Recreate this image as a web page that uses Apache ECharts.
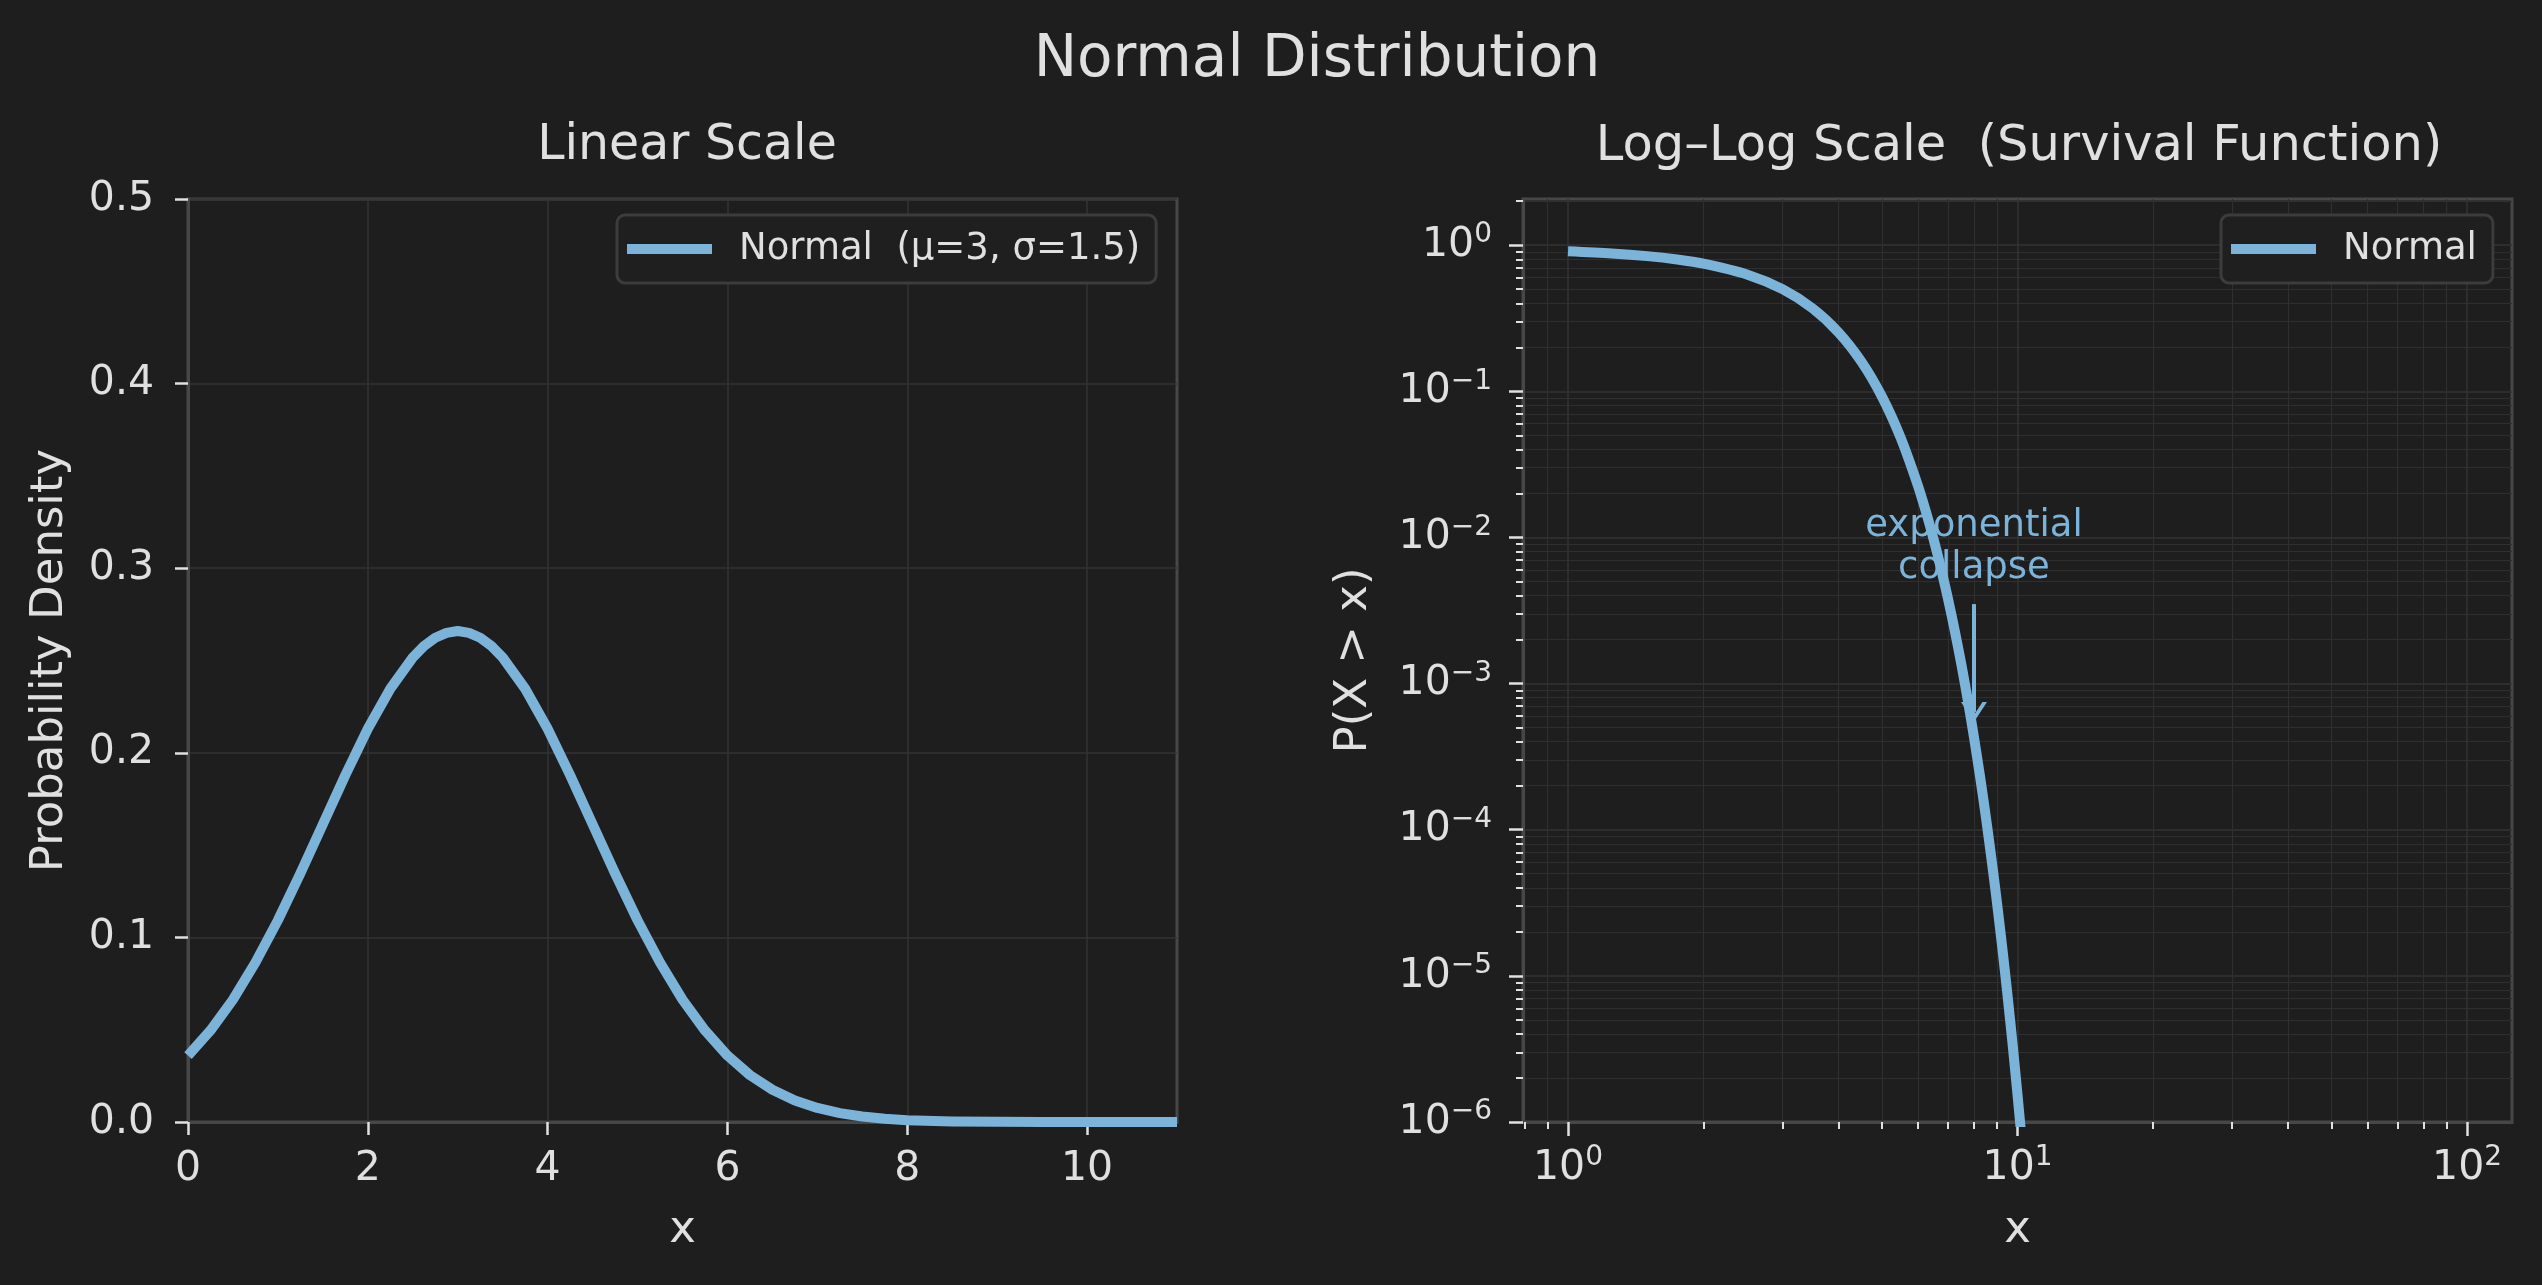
<!DOCTYPE html>
<html>
<head>
<meta charset="utf-8">
<script src="https://cdn.jsdelivr.net/npm/echarts@6/dist/echarts.min.js"></script>
<style>
  html, body { margin: 0; padding: 0; background: #1e1e1e; }
  #chart { width: 2542px; height: 1285px; }
</style>
</head>
<body>
<div id="chart"></div>
<script>
// linear panel: normal pdf (mu=3, sigma=1.5)
var pdfX = [0, 0.25, 0.5, 0.75, 1, 1.25, 1.5, 1.75, 2, 2.25, 2.5, 2.625, 2.75, 2.875, 3, 3.125, 3.25, 3.375, 3.5,
            3.75, 4, 4.25, 4.5, 4.75, 5, 5.25, 5.5, 5.75, 6, 6.25, 6.5, 6.75, 7, 7.25, 7.5, 7.75, 8,
            8.5, 9, 9.5, 10, 10.5, 11];
var pdfY = [0.036, 0.0496, 0.0663, 0.0864, 0.1093, 0.1347, 0.1613, 0.1879, 0.2130, 0.2347, 0.2516, 0.2578,
            0.2623, 0.2650, 0.2660, 0.2650, 0.2623, 0.2578, 0.2516, 0.2347, 0.2130, 0.1879, 0.1613, 0.1347,
            0.1093, 0.0864, 0.0663, 0.0496, 0.0360, 0.0254, 0.0175, 0.0117, 0.0076, 0.0048, 0.0030, 0.0018,
            0.0010, 0.0003, 0.0001, 0, 0, 0, 0];

// log-log panel: survival function
var sfX = [1, 1.25, 1.5, 1.75, 2, 2.5, 3, 3.5, 4, 4.5, 5, 5.5, 6, 6.25, 6.5, 6.75, 7, 7.25, 7.5, 7.75,
           8, 8.25, 8.5, 8.75, 9, 9.25, 9.5, 9.75, 10, 10.25, 10.5];
var sfY = [0.9088, 0.8783, 0.8413, 0.7977, 0.7475, 0.6306, 0.5, 0.3694, 0.2525, 0.1587, 0.0912, 0.0478, 0.02275,
           0.01513, 0.00982, 0.00621, 0.00383, 0.00230, 0.00135, 7.71e-4, 4.29e-4, 2.33e-4, 1.23e-4, 6.32e-5,
           3.17e-5, 1.55e-5, 7.35e-6, 3.40e-6, 1.53e-6, 6.72e-7, 2.87e-7];

// ticks
var linXTicks = [0, 2, 4, 6, 8, 10];
var logXMajor = [1, 10, 100];
var logXMinor = [0.8, 0.9, 2, 3, 4, 5, 6, 7, 8, 9, 20, 30, 40, 50, 60, 70, 80, 90];
var logYMajor = [1e-6, 1e-5, 1e-4, 1e-3, 1e-2, 1e-1, 1];
var logYMinor = [];
[-6, -5, -4, -3, -2, -1, 0].forEach(function (p) {
    for (var m = 2; m <= 9; m++) logYMinor.push(+(m + 'e' + p));
});

// annotation
var annoText = [8, 0.0085];
var arrowFrom = [8, 3.5e-3];
var arrowTo = [8, 6.4e-4];

var lineColor = '#7cb3d8';
var textColor = '#e0e0e0';
var spineColor = '#474747';
var gridColor = '#333333';
var minorGridColor = '#2f2f2f';
var font = 'DejaVu Sans';

function sup(v) {
    var e = Math.round(Math.log10(v));
    return '{b|10}{s|' + String(e).replace('-', '\u2212') + '}';
}
var supRich = {
    b: { fontSize: 41, fontFamily: font, color: textColor, lineHeight: 48 },
    s: { fontSize: 28, fontFamily: font, color: textColor, lineHeight: 30, verticalAlign: 'top' }
};

var chart = echarts.init(document.getElementById('chart'));

var option = {
    backgroundColor: '#1e1e1e',
    animation: false,
    textStyle: { fontFamily: font },
    title: [
        { text: 'Normal Distribution', left: 1312, top: 27, textAlign: 'center',
          textStyle: { color: textColor, fontSize: 58, fontWeight: 'normal', fontFamily: font } },
        { text: 'Linear Scale', left: 682, top: 117, textAlign: 'center',
          textStyle: { color: textColor, fontSize: 49, fontWeight: 'normal', fontFamily: font } },
        { text: 'Log\u2013Log Scale  (Survival Function)', left: 2014, top: 117, textAlign: 'center',
          textStyle: { color: textColor, fontSize: 49.5, fontWeight: 'normal', fontFamily: font } }
    ],
    legend: [
        {
            data: ['Normal  (\u03bc=3, \u03c3=1.5)'],
            left: 617, top: 215,
            icon: 'rect', itemWidth: 85, itemHeight: 10,
            padding: [14, 16, 14, 10],
            backgroundColor: '#1f1f1f', borderColor: '#3c3c3c', borderWidth: 3, borderRadius: 8,
            textStyle: { color: textColor, fontSize: 37, fontFamily: font, lineHeight: 40, padding: [0, 0, 0, 22] }
        },
        {
            data: ['Normal'],
            left: 2221, top: 215,
            icon: 'rect', itemWidth: 85, itemHeight: 10,
            padding: [14, 16, 14, 10],
            backgroundColor: '#1f1f1f', borderColor: '#3c3c3c', borderWidth: 3, borderRadius: 8,
            textStyle: { color: textColor, fontSize: 37, fontFamily: font, lineHeight: 40, padding: [0, 0, 0, 22] }
        }
    ],
    grid: [
        { left: 188, top: 199, width: 989, height: 923, show: true, borderColor: spineColor, borderWidth: 3 },
        { left: 1523, top: 199, width: 989, height: 923, show: true, borderColor: spineColor, borderWidth: 3 }
    ],
    xAxis: [
        {
            type: 'value', gridIndex: 0, min: 0, max: 11, position: 'bottom',
            name: 'x', nameLocation: 'middle', nameGap: 86,
            nameTextStyle: { color: textColor, fontSize: 45, fontFamily: font },
            axisLine: { lineStyle: { color: spineColor, width: 3 } },
            axisTick: { customValues: linXTicks, length: 13, lineStyle: { color: textColor, width: 2.5 } },
            axisLabel: { customValues: linXTicks, margin: 27, color: textColor, fontSize: 41, fontFamily: font },
            splitLine: { show: true, lineStyle: { color: gridColor, width: 1.5 } }
        },
        {
            type: 'log', gridIndex: 1, min: 0.794, max: 125.9, position: 'bottom',
            name: 'x', nameLocation: 'middle', nameGap: 86,
            nameTextStyle: { color: textColor, fontSize: 45, fontFamily: font },
            axisLine: { lineStyle: { color: spineColor, width: 3 } },
            axisTick: { customValues: logXMajor, length: 14, lineStyle: { color: textColor, width: 2.5 } },
            axisLabel: { customValues: logXMajor, margin: 22, formatter: sup, rich: supRich },
            splitLine: { show: true, lineStyle: { color: gridColor, width: 1.5 } }
        },
        {
            type: 'log', gridIndex: 1, min: 0.794, max: 125.9, position: 'bottom', offset: 0,
            axisLine: { show: false },
            axisTick: { customValues: logXMinor, length: 7, lineStyle: { color: textColor, width: 2 } },
            axisLabel: { show: false },
            splitLine: { show: true, lineStyle: { color: minorGridColor, width: 1.2 } }
        }
    ],
    yAxis: [
        {
            type: 'value', gridIndex: 0, min: 0, max: 0.5, interval: 0.1, position: 'left',
            name: 'Probability Density', nameLocation: 'middle', nameGap: 115,
            nameTextStyle: { color: textColor, fontSize: 45, fontFamily: font },
            axisLine: { show: true, lineStyle: { color: spineColor, width: 3 } },
            axisTick: { show: true, length: 13, lineStyle: { color: textColor, width: 2.5 } },
            axisLabel: { margin: 34, color: textColor, fontSize: 41, fontFamily: font,
                         formatter: function (v) { return v.toFixed(1); } },
            splitLine: { show: true, lineStyle: { color: gridColor, width: 1.5 } }
        },
        {
            type: 'log', gridIndex: 1, min: 1e-6, max: 2.07, position: 'left',
            name: 'P(X > x)', nameLocation: 'middle', nameGap: 146,
            nameTextStyle: { color: textColor, fontSize: 45, fontFamily: font },
            axisLine: { show: true, lineStyle: { color: spineColor, width: 3 } },
            axisTick: { show: true, customValues: logYMajor, length: 14, lineStyle: { color: textColor, width: 2.5 } },
            axisLabel: { customValues: logYMajor, margin: 31, formatter: sup, rich: supRich },
            splitLine: { show: true, lineStyle: { color: gridColor, width: 1.5 } }
        },
        {
            type: 'log', gridIndex: 1, min: 1e-6, max: 2.07, position: 'left', offset: 0,
            axisLine: { show: false },
            axisTick: { show: true, customValues: logYMinor, length: 7, lineStyle: { color: textColor, width: 2 } },
            axisLabel: { show: false },
            splitLine: { show: true, lineStyle: { color: minorGridColor, width: 1.2 } }
        }
    ],
    series: [
        {
            name: 'Normal  (\u03bc=3, \u03c3=1.5)',
            type: 'line', xAxisIndex: 0, yAxisIndex: 0,
            data: pdfX.map(function (x, i) { return [x, pdfY[i]]; }),
            showSymbol: false, smooth: false, color: lineColor,
            lineStyle: { color: lineColor, width: 10, join: 'round' }
        },
        {
            name: 'Normal',
            type: 'line', xAxisIndex: 1, yAxisIndex: 1,
            data: sfX.map(function (x, i) { return [x, sfY[i]]; }),
            showSymbol: false, smooth: 0.3, color: lineColor,
            lineStyle: { color: lineColor, width: 10, join: 'round' },
            markPoint: {
                silent: true, symbol: 'circle', symbolSize: 0,
                data: [{ coord: annoText }],
                label: { show: true, position: 'inside', formatter: 'exponential\ncollapse',
                         color: lineColor, fontSize: 37, lineHeight: 42, fontFamily: font, align: 'center' }
            },
            markLine: {
                silent: true, animation: false,
                symbol: ['none', 'path://M0,20 L13,0 L26,20 L21.5,20 L13,7 L4.5,20 Z'],
                symbolSize: [26, 20],
                label: { show: false },
                lineStyle: { color: lineColor, width: 4, type: 'solid' },
                data: [[{ coord: arrowFrom }, { coord: arrowTo }]]
            }
        }
    ]
};

chart.setOption(option);
</script>
</body>
</html>
